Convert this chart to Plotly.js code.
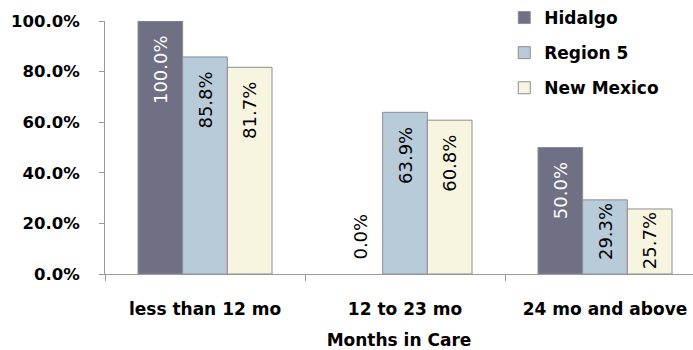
<!DOCTYPE html>
<html>
<head>
<meta charset="utf-8">
<script src="https://cdn.plot.ly/plotly-3.0.1.min.js"></script>
<style>html,body{margin:0;padding:0;background:#fff;overflow:hidden}</style>
</head>
<body>
<div id="chart" style="width:693px;height:350px"></div>
<script>
const categories = ["less than 12 mo", "12 to 23 mo", "24 mo and above"];
const hidalgo = [1.0, 0.0, 0.5];
const region5 = [0.858, 0.639, 0.293];
const newMexico = [0.817, 0.608, 0.257];
const seriesNames = ["Hidalgo", "Region 5", "New Mexico"];
const yTickVals = [0, 0.2, 0.4, 0.6, 0.8, 1.0];

const FONT = "DejaVu Sans, Arial, sans-serif";
const pad = "\u00a0\u00a0";
function labelTemplates(vals){
  return vals.map(v => v === 0 ? pad + "%{y:.1%}" : (v > 0.4 ? "%{y:.1%}" + pad : "%{y:.1%}"));
}
function positions(vals){
  return vals.map(v => v === 0 ? "outside" : "inside");
}
function mk(name, vals, color, textColor){
  return {
    type: "bar", name: name, x: categories, y: vals,
    marker: {color: color, line: {color: "#8c8c98", width: vals.map(v => v === 0 ? 0 : 1)}},
    texttemplate: labelTemplates(vals),
    textposition: positions(vals),
    insidetextanchor: "end",
    textangle: -90,
    constraintext: "none",
    cliponaxis: false,
    insidetextfont: {family: FONT, size: 18, color: textColor},
    outsidetextfont: {family: FONT, size: 18, color: "#000"},
    hoverinfo: "skip",
    legendgroup: name
  };
}
const data = [
  mk(seriesNames[0], hidalgo, "#707084", "#ffffff"),
  mk(seriesNames[1], region5, "#b8cbd9", "#000000"),
  mk(seriesNames[2], newMexico, "#f7f5e0", "#000000")
];
const layout = {
  width: 693, height: 350,
  margin: {l: 105, r: 0, t: 20, b: 76},
  paper_bgcolor: "#fff", plot_bgcolor: "#fff",
  barmode: "group", bargap: 0.33, bargroupgap: 0,
  font: {family: FONT, size: 17, color: "#000"},
  xaxis: {
    type: "category", range: [-0.5, 2.44],
    tickson: "boundaries", ticks: "outside", ticklen: 6, tickcolor: "#999",
    showline: true, linecolor: "#999", linewidth: 1,
    showgrid: false, zeroline: false,
    tickfont: {family: FONT, size: 17, weight: "bold", color: "#000"},
    ticklabelstandoff: 20,
    title: {text: "Months in Care", font: {family: FONT, size: 17, weight: "bold", color: "#000"}, standoff: 16},
    automargin: false
  },
  yaxis: {
    range: [0, 1], tickvals: yTickVals, tickformat: ".1%",
    ticks: "outside", ticklen: 5, tickcolor: "#999",
    showline: true, linecolor: "#999", linewidth: 1,
    showgrid: false, zeroline: false,
    tickfont: {family: FONT, size: 16.5, weight: "bold", color: "#000"},
    ticklabelstandoff: 16,
    automargin: false
  },
  showlegend: true,
  legend: {
    x: 0.679, xanchor: "left", y: 1.085, yanchor: "top",
    font: {family: FONT, size: 17, weight: "bold", color: "#000"},
    traceorder: "grouped", tracegroupgap: 10,
    bgcolor: "rgba(0,0,0,0)"
  }
};
Plotly.newPlot("chart", data, layout, {displayModeBar: false, staticPlot: true});
</script>
</body>
</html>
